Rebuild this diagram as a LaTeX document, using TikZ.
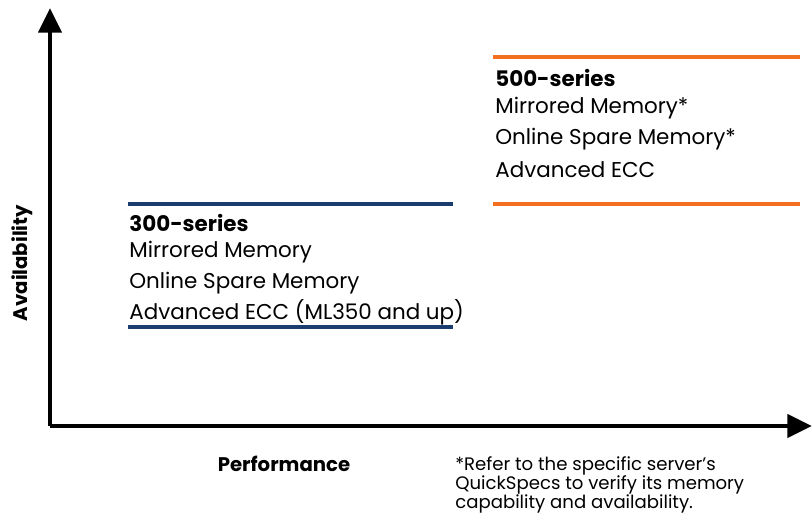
\documentclass[tikz,border=0pt]{standalone}
\usepackage{fontspec}
\setmainfont{Poppins}
\usetikzlibrary{arrows.meta}
\definecolor{navy}{HTML}{1B3C6E}
\definecolor{hporange}{HTML}{F37021}
\tikzset{
  axis/.style={line width=2.8pt, -{Triangle[length=14pt,width=13pt]}},
  bar300/.style={draw=navy, line width=2.3pt},
  bar500/.style={draw=hporange, line width=2.5pt},
  item/.style={anchor=base west, inner sep=0pt, font=\fontsize{12.2}{15}\selectfont},
  head/.style={item, font=\fontsize{12.2}{15}\selectfont\bfseries},
  axlabel/.style={inner sep=0pt, font=\fontsize{11.2}{14}\selectfont\bfseries},
}
\begin{document}
\begin{tikzpicture}[x=0.02cm, y=-0.02cm]
          \useasboundingbox (0,0) rectangle (812,527);
          \coordinate (origin) at (50,426);
          \coordinate (ytip) at (50,8);
          \coordinate (xtip) at (812,426);
          
          \draw [axis] (origin) -- (ytip);
          \draw [axis] (origin) -- (xtip);
          
          \node [axlabel, rotate=90] (avail) at (22,263) {Availability};
          \node [axlabel, anchor=base] (perf) at (284,471) {Performance};
          
          \coordinate (b1) at (128,204);
          \coordinate (b2) at (453,204);
          \coordinate (b3) at (128,327);
          \coordinate (b4) at (453,327);
          \draw [bar300] (b1) -- (b2);
          \draw [bar300] (b3) -- (b4);
          
          \node [head] (s300) at (129,232) {300-series};
          \node [item] (s300a) at (129,257) {Mirrored Memory};
          \node [item] (s300b) at (129,288) {Online Spare Memory};
          \node [item] (s300c) at (129,319) {Advanced ECC (ML350 and up)};
          
          \coordinate (o1) at (493,57);
          \coordinate (o2) at (800,57);
          \coordinate (o3) at (493,204);
          \coordinate (o4) at (800,204);
          \draw [bar500] (o1) -- (o2);
          \draw [bar500] (o3) -- (o4);
          
          \node [head] (s500) at (495,87) {500-series};
          \node [item] (s500a) at (495,114) {Mirrored Memory*};
          \node [item] (s500b) at (495,145) {Online Spare Memory*};
          \node [item] (s500c) at (495,177) {Advanced ECC};
          
          \node [anchor=north west, inner sep=0pt, align=left,
                 font=\fontsize{10.3}{10.8}\selectfont] (note) at (455,456)
                {*Refer to the specific server's\\QuickSpecs to verify its memory\\capability and availability.};
          
\end{tikzpicture}
\end{document}
